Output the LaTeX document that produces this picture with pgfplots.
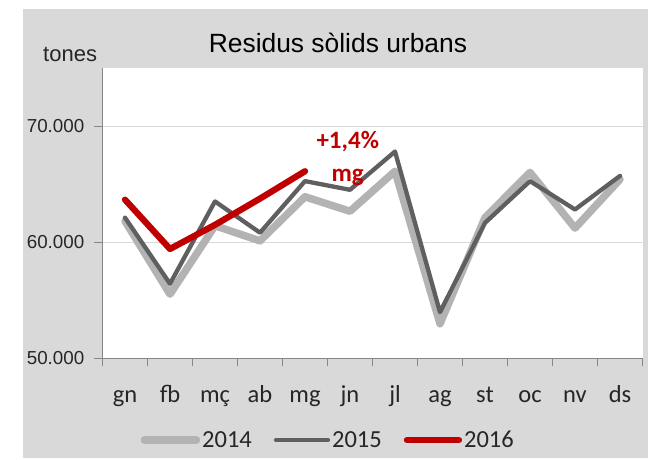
\documentclass[border=0pt]{standalone}
\usepackage{pgfplots}
\pgfplotsset{compat=1.18}
\usepackage{fontspec}
\setmainfont{Carlito}
\newfontfamily\arialf{Liberation Sans}
\definecolor{bggray}{HTML}{D9D9D9}
\definecolor{c14}{HTML}{B3B3B3}
\definecolor{c15}{HTML}{5F5F5F}
\definecolor{c16}{HTML}{C00000}
\definecolor{axgray}{HTML}{868686}
\definecolor{txt}{HTML}{262626}
\begin{document}
\begin{tikzpicture}[x=1pt,y=1pt]
\path[use as bounding box] (0,0) rectangle (648,459);
\fill[bggray] (23,1) rectangle (648,450);
\begin{axis}[
  at={(102.5pt,101pt)}, anchor=south west,
  scale only axis, width=540pt, height=290pt,
  xmin=-0.5, xmax=11.5, ymin=50000, ymax=75000,
  axis lines=left, axis line style={-, axgray, line width=1pt},
  axis background/.style={fill=white},
  clip mode=individual,
  tick align=outside,
  scaled y ticks=false,
  major tick length=8pt, tick style={axgray, line width=1pt},
  xtick={-0.5,0.5,1.5,2.5,3.5,4.5,5.5,6.5,7.5,8.5,9.5,10.5,11.5}, xticklabels={},
  extra x ticks={0,1,2,3,4,5,6,7,8,9,10,11},
  extra x tick labels={gn,fb,mç,ab,mg,jn,jl,ag,st,oc,nv,ds},
  extra x tick style={major tick length=0pt, xticklabel style={anchor=base, yshift=-44pt, font=\fontsize{24.5}{28}\selectfont, text=txt}},
  ytick={50000,60000,70000}, yticklabels={50.000,60.000,70.000},
  yticklabel style={anchor=east, inner sep=0pt, xshift=-10pt, font=\arialf\fontsize{18.8}{22}\selectfont, text=txt},
  ymajorgrids, grid style={bggray, line width=1pt},
  legend style={at={(0.418,-0.283)}, anchor=center, draw=none, fill=none, legend columns=3,
    font=\fontsize{24.5}{28}\selectfont, text=txt,
    /tikz/every even column/.append style={column sep=20pt}},
  legend image code/.code={\draw[#1, line cap=round] (0pt,0pt) -- (52pt,0pt);},
]
\addplot[c14, line width=7.5pt, line join=round, line cap=round] coordinates {
(0,61800) (1,55500) (2,61400) (3,60100) (4,63900) (5,62650) (6,66100) (7,52950) (8,62100) (9,66000) (10,61200) (11,65400)};
\addlegendentry{2014}
\addplot[c15, line width=4.3pt, line join=round, line cap=round] coordinates {
(0,62100) (1,56400) (2,63500) (3,60800) (4,65250) (5,64500) (6,67800) (7,53950) (8,61650) (9,65250) (10,62800) (11,65700)};
\addlegendentry{2015}
\addplot[c16, line width=6.3pt, line join=round, line cap=round] coordinates {
(0,63650) (1,59400) (2,61480) (3,63740) (4,66100)};
\addlegendentry{2016}
\node[text=c16, font=\fontsize{25}{33}\selectfont\bfseries, align=center] at (axis cs:4.95,67215) {+1,4\%\\mg};
\node[anchor=base, font=\arialf\fontsize{26.4}{30}\selectfont, text=black] at (rel axis cs:0.436,1.052) {Residus sòlids urbans};
\node[anchor=base, font=\arialf\fontsize{22}{26}\selectfont, text=txt] at (rel axis cs:-0.060,1.022) {tones};
\end{axis}
\end{tikzpicture}
\end{document}
